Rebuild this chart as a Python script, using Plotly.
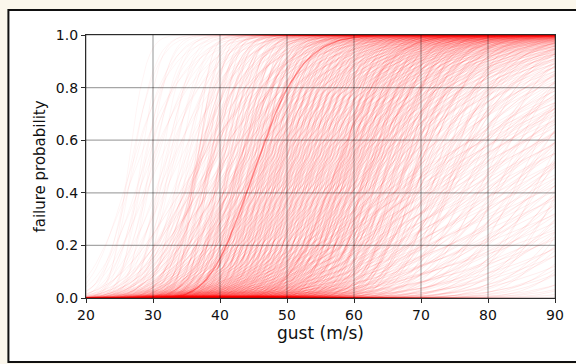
import math
import numpy as np
import plotly.graph_objects as go

# ---- data ----
x_ticks = [20, 30, 40, 50, 60, 70, 80, 90]
y_ticks = [0.0, 0.2, 0.4, 0.6, 0.8, 1.0]
x_tick_labels = ["20", "30", "40", "50", "60", "70", "80", "90"]
y_tick_labels = ["0.0", "0.2", "0.4", "0.6", "0.8", "1.0"]

# fragility-curve parameters (lognormal median gust in m/s, dispersion beta)
left_medians = [26.3, 28.1, 29.4, 31.2, 32.3, 33.9, 35.1, 36.4, 37.6]
left_betas = [0.08, 0.10, 0.12, 0.15, 0.18, 0.22]
left_shifts = [0.0, 0.6, 0.3, 0.9, 0.45, 1.2]

main_medians = [36.2, 38.1, 39.7, 41.0, 42.3, 43.1, 44.2, 45.0, 45.9, 46.6,
                47.5, 48.3, 49.0, 49.9, 50.6, 51.5, 52.2, 53.1, 53.8, 54.7,
                55.4, 56.3, 57.2, 57.9, 58.8, 59.6, 60.5, 61.6, 62.4, 63.5,
                64.7, 66.0, 67.4, 69.1]
main_betas = [0.05, 0.06, 0.07, 0.08, 0.09, 0.10, 0.11, 0.12, 0.14, 0.16,
              0.18, 0.21, 0.24, 0.28]
main_shifts = [0.0, 0.37, 0.18, 0.61, 0.09, 0.52, 0.29, 0.74, 0.23, 0.66,
               0.04, 0.45, 0.83, 0.31]

steep_medians = [58.3, 60.1, 61.8, 63.2, 64.9, 66.7, 68.4, 70.2, 72.5, 74.8]
steep_betas = [0.06, 0.075, 0.09, 0.105, 0.12]
steep_shifts = [0.0, 0.8, 0.35, 1.1, 0.55]

right_medians = [70.5, 72.2, 74.1, 75.8, 78.0, 80.3, 82.9, 85.6, 88.7, 92.4,
                 96.1, 101.0, 107.0, 114.0]
right_betas = [0.09, 0.11, 0.13, 0.15, 0.18, 0.21, 0.24, 0.28, 0.32, 0.37]
right_shifts = [0.0, 0.9, 0.4, 1.3, 0.6, 1.1, 0.2, 1.5, 0.8, 0.3]

strong_medians = [45.3, 45.3, 42.5, 57.5]
strong_betas = [0.12, 0.12, 0.13, 0.10]
strong_alphas = [0.25, 0.2, 0.12, 0.16]

X0, DX, NPTS = 20.0, 0.5, 141
gust = X0 + DX * np.arange(NPTS)
erf = np.vectorize(math.erf)


def cdf(m, b):
    z = np.log(gust / m) / b
    return np.round(0.5 * (1.0 + erf(z / math.sqrt(2.0))), 4)


fig = go.Figure()


def add_curve(m, b, alpha, width):
    fig.add_trace(go.Scatter(
        x0=X0, dx=DX, y=cdf(m, b), mode="lines",
        line=dict(color=f"rgba(255,0,0,{alpha})", width=width),
        hoverinfo="skip", showlegend=False))


def add_group(medians, betas, shifts, alpha, width):
    for b, s in zip(betas, shifts):
        for m in medians:
            add_curve(m + s, b, alpha, width)


add_group(left_medians, left_betas, left_shifts, 0.045, 1.0)
add_group(main_medians, main_betas, main_shifts, 0.075, 1.0)
add_group(steep_medians, steep_betas, steep_shifts, 0.07, 1.0)
add_group(right_medians, right_betas, right_shifts, 0.07, 1.0)
for m, b, a in zip(strong_medians, strong_betas, strong_alphas):
    add_curve(m, b, a, 1.4)

# plot area in page pixels: x 86..557.5, y 34.5..298
PW, PH = 471.5, 263.5
shapes = [dict(type="rect", xref="paper", yref="paper",
               x0=(8 - 86) / PW, x1=(582 - 86) / PW,
               y0=-(362 - 298) / PH, y1=1 + (34.5 - 9.5) / PH,
               line=dict(color="#111", width=2), fillcolor="white",
               layer="below")]
for xv in x_ticks:
    shapes.append(dict(type="line", xref="x", yref="paper", x0=xv, x1=xv,
                       y0=0, y1=1, line=dict(color="rgba(0,0,0,0.35)", width=1.2),
                       layer="above"))
for yv in y_ticks:
    shapes.append(dict(type="line", xref="paper", yref="y", x0=0, x1=1,
                       y0=yv, y1=yv, line=dict(color="rgba(0,0,0,0.35)", width=1.2),
                       layer="above"))

axis_common = dict(showgrid=False, zeroline=False, showline=True, mirror=True,
                   linecolor="#2b2b2b", linewidth=1.3, ticks="outside",
                   ticklen=4, tickwidth=1.1, tickcolor="#2b2b2b",
                   layer="above traces",
                   tickfont=dict(family="DejaVu Sans", size=14, color="#111"))

fig.update_layout(
    width=576, height=364,
    margin=dict(l=86, r=18.5, t=34.5, b=66),
    paper_bgcolor="#fbf7ec", plot_bgcolor="white",
    shapes=shapes,
    xaxis=dict(range=[20, 90], tickvals=x_ticks, ticktext=x_tick_labels,
               title=dict(text="gust (m/s)", standoff=4,
                          font=dict(family="DejaVu Sans", size=17, color="#111")),
               **axis_common),
    yaxis=dict(range=[0, 1], tickvals=y_ticks, ticktext=y_tick_labels,
               title=dict(text="failure probability", standoff=6,
                          font=dict(family="DejaVu Sans", size=15, color="#111")),
               **axis_common),
)

fig.write_html(
    "out.html",
    config={"displayModeBar": False},
    post_script="document.body.style.margin='0';"
                "document.body.style.background='#fbf7ec';")
